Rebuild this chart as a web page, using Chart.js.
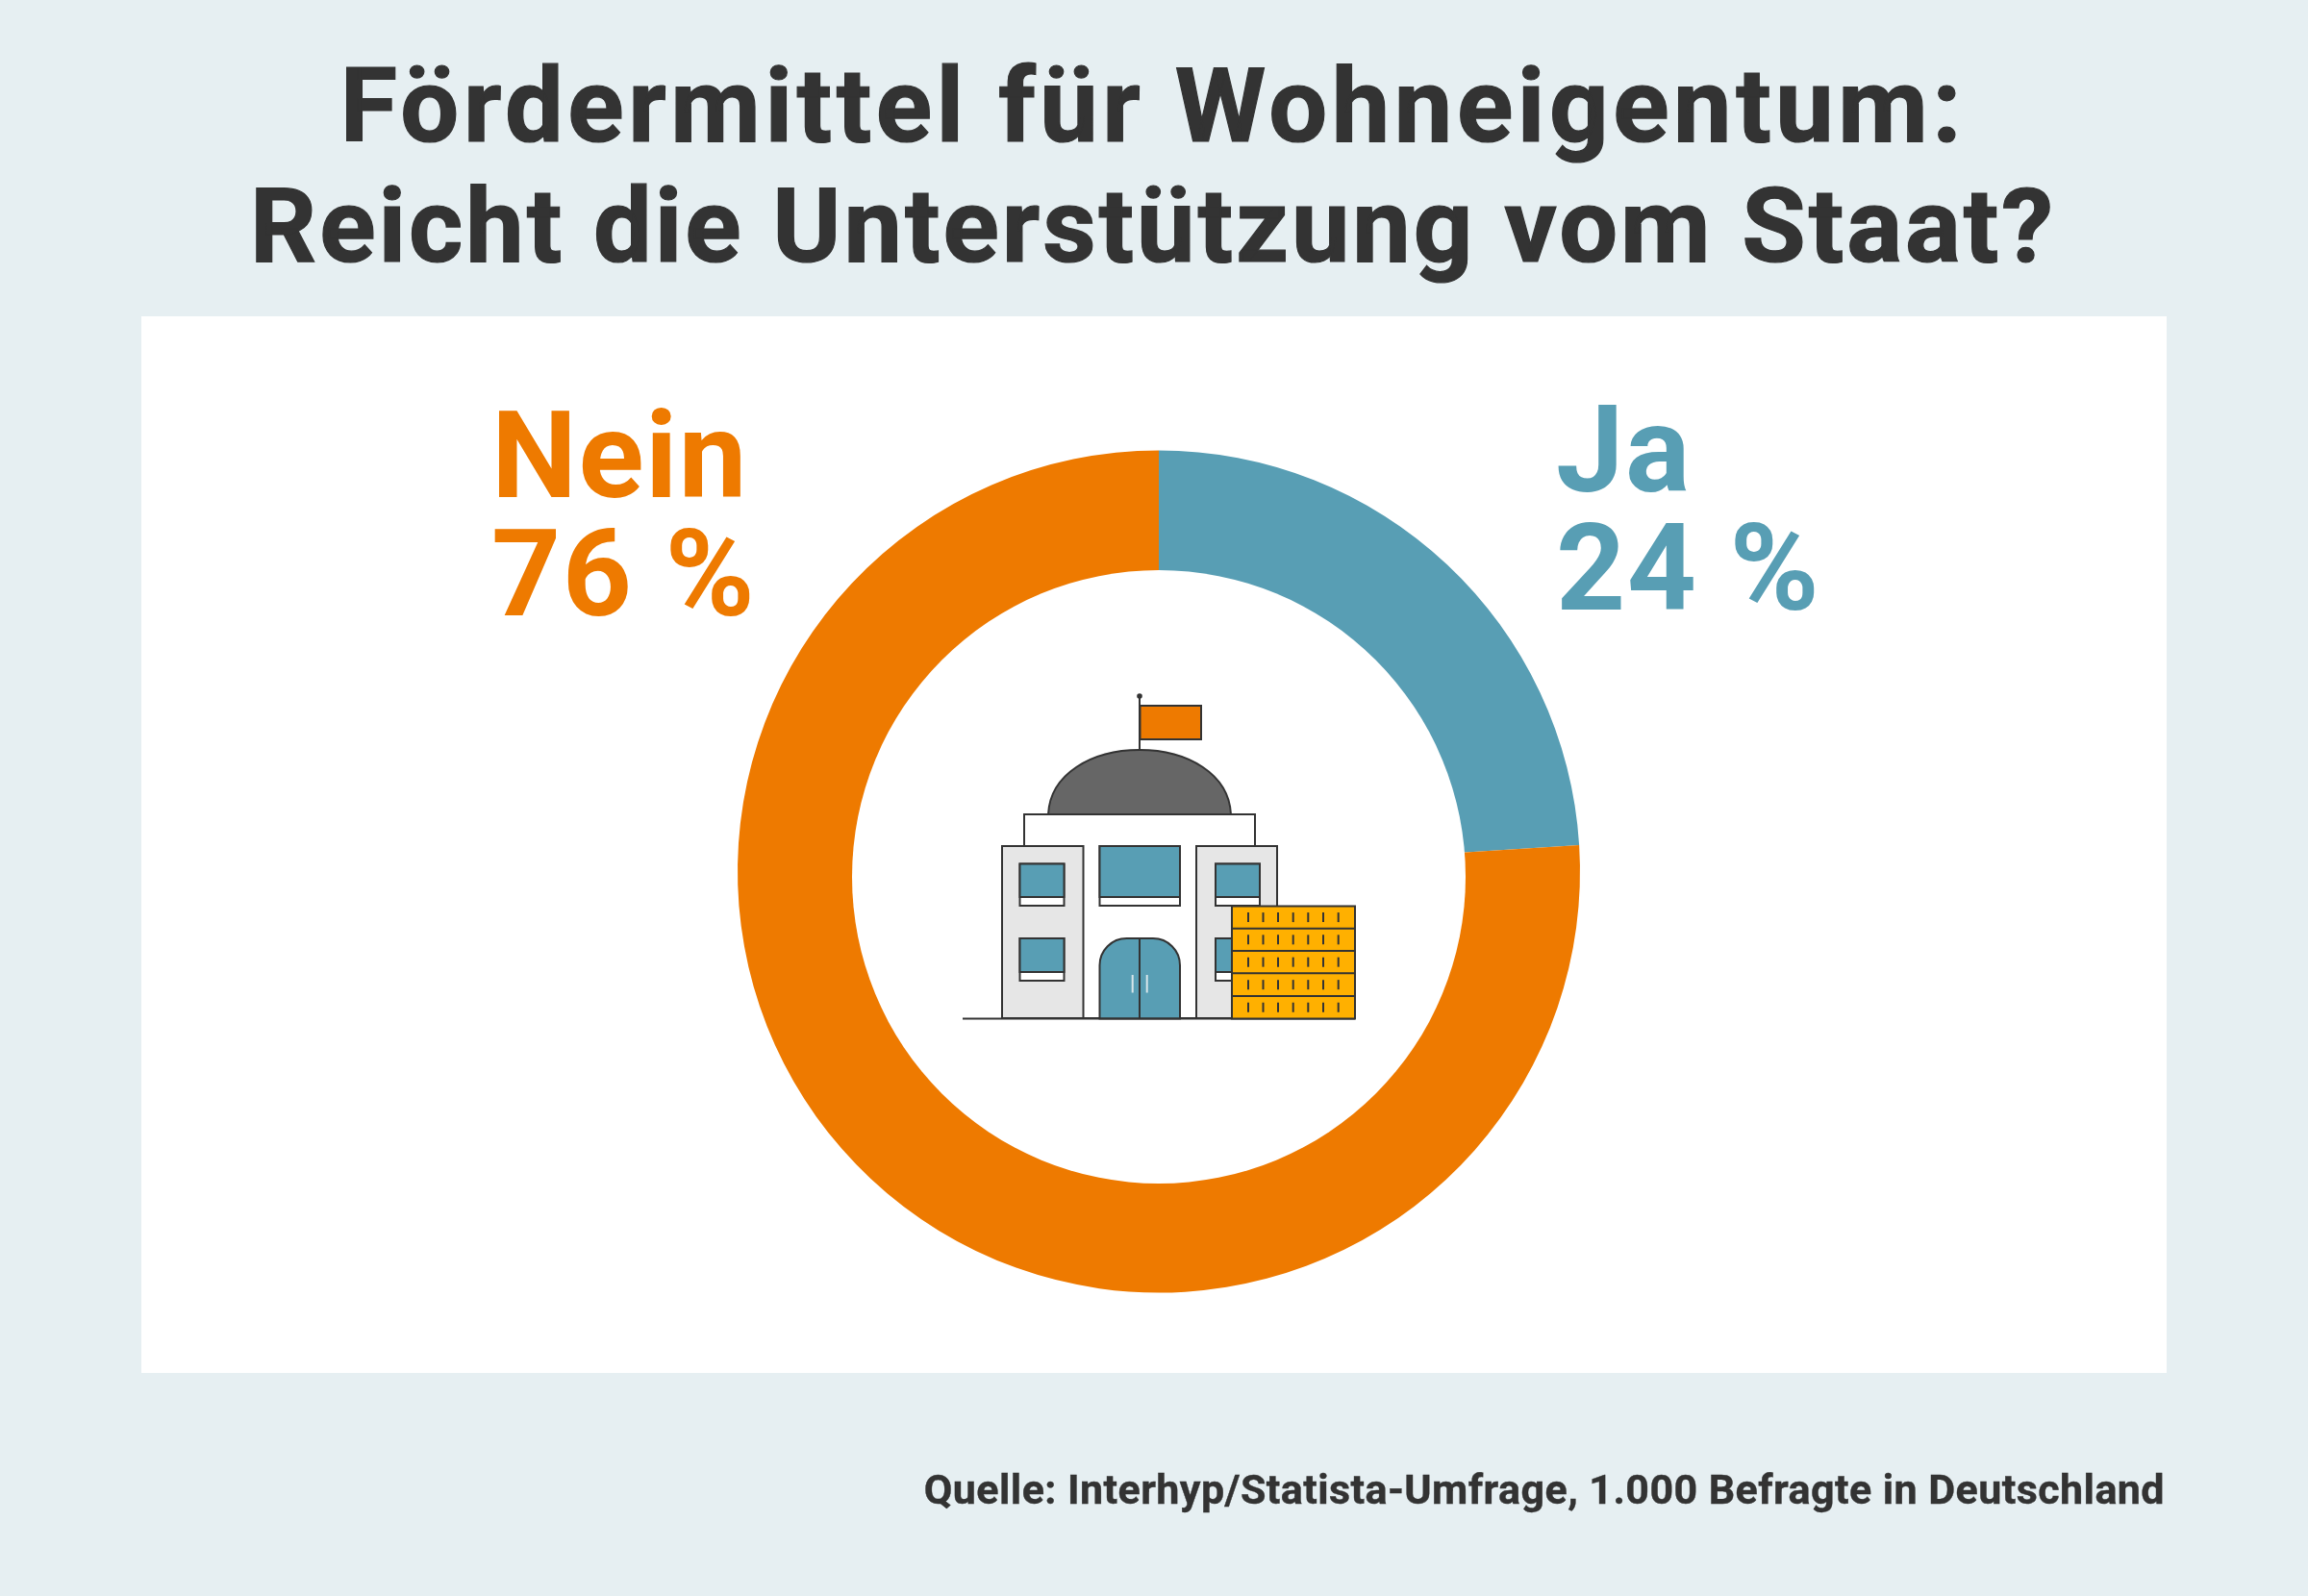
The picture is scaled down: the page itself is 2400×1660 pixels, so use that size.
<!DOCTYPE html>
<html lang="de">
<head>
  <meta charset="UTF-8" />
  <title>Fördermittel für Wohneigentum</title>
  <script src="https://cdn.jsdelivr.net/npm/chart.js"></script>
  <style>
    html, body { margin: 0; padding: 0; }
    body {
      position: relative;
      width: 2400px;
      height: 1660px;
      overflow: hidden;
      background: #e6eff2;
      font-family: Roboto, sans-serif;
      font-weight: 700;
      color: #333333;
    }
    #panel { position: absolute; left: 147px; top: 329px; width: 2106px; height: 1099px; background: #fff; }
    canvas { position: absolute; left: 0; top: 0; }
    #chartTitle {
      position: absolute; left: 0; top: 48px; width: 2398px;
      text-align: center; font-size: 108px; line-height: 125px;
      -webkit-text-stroke: 1.2px #333333;
    }
    #chartTitle div:nth-child(1) { letter-spacing: 4.55px; }
    #chartTitle div:nth-child(2) { letter-spacing: 2.95px; }
    .sliceLabel { position: absolute; font-size: 126px; line-height: 123px; letter-spacing: 1.5px; white-space: pre; }
    #source {
      position: absolute; right: 149px; top: 1524px;
      font-size: 43px; line-height: 50px; letter-spacing: 0.43px; white-space: nowrap;
      -webkit-text-stroke: 0.4px #333333;
    }
  </style>
</head>
<body>
  <div id="panel"></div>
  <canvas id="donut" width="2400" height="1660"></canvas>
  <div id="chartTitle"></div>
  <div id="labelJa" class="sliceLabel" style="left:1618px;top:407px"></div>
  <div id="labelNein" class="sliceLabel" style="left:511px;top:413px"></div>
  <div id="source"></div>

  <script>
    const titleLines = ["Fördermittel für Wohneigentum:", "Reicht die Unterstützung vom Staat?"];
    const categories = ["Ja", "Nein"];
    const shares = [24, 76];
    const sliceColors = ["#589eb4", "#ee7a00"];
    const sourceText = "Quelle: Interhyp/Statista-Umfrage, 1.000 Befragte in Deutschland";

    document.getElementById("chartTitle").innerHTML = titleLines.map(t => `<div>${t}</div>`).join("");
    document.getElementById("source").textContent = sourceText;
    ["labelJa", "labelNein"].forEach((id, i) => {
      const el = document.getElementById(id);
      el.textContent = categories[i] + "\n" + shares[i] + " %";
      el.style.color = sliceColors[i];
    });

    function box(c, x1, y1, x2, y2, fill) {
      c.fillStyle = fill;
      c.beginPath();
      c.rect(x1, y1, x2 - x1, y2 - y1);
      c.fill();
      c.stroke();
    }

    function line(c, x1, y1, x2, y2) {
      c.beginPath();
      c.moveTo(x1, y1);
      c.lineTo(x2, y2);
      c.stroke();
    }

    function windowBox(c, x1, y1, x2, y2, sill) {
      box(c, x1, y1, x2, y2, "#ffffff");
      box(c, x1, y1, x2, sill, sliceColors[0]);
    }

    // das Gebäude in der Mitte
    function drawBuilding(c) {
      c.save();
      c.strokeStyle = "#333333";
      c.lineWidth = 2;

      // Fahne
      line(c, 1185, 724, 1185, 780);
      c.fillStyle = "#333333";
      c.beginPath();
      c.arc(1185, 724, 2.8, 0, Math.PI * 2);
      c.fill();
      box(c, 1185.5, 734, 1249, 769, sliceColors[1]);

      // Kuppel
      c.fillStyle = "#666666";
      c.beginPath();
      c.moveTo(1090, 847);
      c.bezierCurveTo(1092, 805, 1135, 780, 1185, 780);
      c.bezierCurveTo(1235, 780, 1278, 805, 1280, 847);
      c.closePath();
      c.fill();
      c.stroke();

      box(c, 1065, 847, 1305, 1059, "#ffffff");
      box(c, 1042, 880, 1126.5, 1059, "#e6e6e6");
      box(c, 1244, 880, 1328, 1059, "#e6e6e6");

      windowBox(c, 1143.5, 880, 1227, 942, 933);
      windowBox(c, 1060.5, 898.5, 1106.5, 942, 933);
      windowBox(c, 1060.5, 976, 1106.5, 1020, 1011);
      windowBox(c, 1264, 898.5, 1310, 942, 933);
      windowBox(c, 1264, 976, 1310, 1020, 1011);

      // Tür
      c.fillStyle = sliceColors[0];
      c.beginPath();
      c.roundRect(1143.5, 976, 83.5, 83.5, [28, 28, 0, 0]);
      c.fill();
      c.stroke();
      line(c, 1185, 976, 1185, 1059);
      c.save();
      c.strokeStyle = "#d8e6ea";
      line(c, 1177.7, 1014, 1177.7, 1032.5);
      line(c, 1192.7, 1014, 1192.7, 1032.5);
      c.restore();

      // Boden
      line(c, 1001, 1059.5, 1409, 1059.5);

      // Münzstapel
      const coinEdges = [942.5, 965.7, 989, 1012.3, 1036, 1059.5];
      const coinTicks = [1298, 1313.5, 1329, 1344.7, 1360.3, 1376, 1391.7];
      box(c, 1281, 942.5, 1409, 1059.5, "#ffb000");
      coinEdges.slice(1, 5).forEach(y => line(c, 1281, y, 1409, y));
      for (let i = 0; i < 5; i++) {
        const mid = (coinEdges[i] + coinEdges[i + 1]) / 2;
        coinTicks.forEach(x => line(c, x, mid - 5, x, mid + 5));
      }
      c.restore();
    }

    // das Loch im Original sitzt etwas tiefer als der Ring
    const centerArt = {
      id: "centerArt",
      afterDatasetsDraw(chart) {
        const c = chart.ctx;
        c.save();
        c.fillStyle = "#ffffff";
        c.beginPath();
        c.arc(1205, 912, 319, 0, Math.PI * 2);
        c.fill();
        c.restore();
        drawBuilding(c);
      }
    };

    new Chart(document.getElementById("donut"), {
      type: "doughnut",
      data: {
        labels: categories,
        datasets: [{ data: shares, backgroundColor: sliceColors, borderWidth: 0 }]
      },
      options: {
        responsive: false,
        animation: false,
        cutout: 300,
        layout: { padding: { left: 767, right: 757, top: 468.5, bottom: 315.5 } },
        plugins: { legend: { display: false }, tooltip: { enabled: false } }
      },
      plugins: [centerArt]
    });
  </script>
</body>
</html>
